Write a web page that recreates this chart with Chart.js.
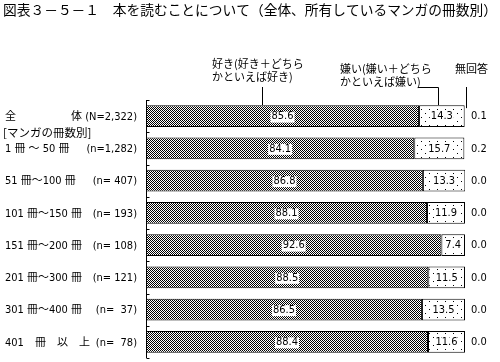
<!DOCTYPE html>
<html>
<head>
<meta charset="utf-8">
<script src="https://cdn.jsdelivr.net/npm/chart.js@4"></script>
<style>
  html, body { margin: 0; padding: 0; background: #fff; }
  #wrap { width: 500px; height: 362px; position: relative; }
</style>
</head>
<body>
<div id="wrap"><canvas id="chartManga" width="500" height="362"></canvas></div>
<script>
const titleText = '図表３－５－１　本を読むことについて（全体、所有しているマンガの冊数別）'
const groupHeader = '[マンガの冊数別]'
const categories = ['全　　　　　体', '1 冊 ～ 50 冊', '51 冊～100 冊', '101 冊～150 冊', '151 冊～200 冊', '201 冊～300 冊', '301 冊～400 冊', '401　冊　以　上']
const sampleSizes = ['(N=2,322)', '(n=1,282)', '(n= 407)', '(n= 193)', '(n= 108)', '(n= 121)', '(n=  37)', '(n=  78)']
const likeValues = [85.6, 84.1, 86.8, 88.1, 92.6, 88.5, 86.5, 88.4]
const dislikeValues = [14.3, 15.7, 13.3, 11.9, 7.4, 11.5, 13.5, 11.6]
const noAnswerValues = [0.1, 0.2, 0.0, 0.0, 0.0, 0.0, 0.0, 0.0]
const legendLike = ['好き(好き＋どちら', 'かといえば好き)']
const legendDislike = ['嫌い(嫌い＋どちら', 'かといえば嫌い)']
const legendNoAnswer = '無回答'

const jpFont = '"Noto Sans CJK JP", sans-serif'
const numFont = '"Liberation Sans Narrow", "DejaVu Sans Condensed", "Noto Sans CJK JP", sans-serif'

// 塗りパターン
function makeChecker() {
  const c = document.createElement('canvas')
  c.width = 2
  c.height = 2
  const g = c.getContext('2d')
  g.fillStyle = '#fff'
  g.fillRect(0, 0, 2, 2)
  g.fillStyle = '#000'
  g.fillRect(0, 0, 1, 1)
  g.fillRect(1, 1, 1, 1)
  return g.createPattern(c, 'repeat')
}
function makeDots() {
  const c = document.createElement('canvas')
  c.width = 8
  c.height = 8
  const g = c.getContext('2d')
  g.fillStyle = '#fff'
  g.fillRect(0, 0, 8, 8)
  g.fillStyle = '#000'
  g.fillRect(1, 1, 1, 1)
  g.fillRect(5, 5, 1, 1)
  return g.createPattern(c, 'repeat')
}

const ctx = document.getElementById('chartManga').getContext('2d')

const decorPlugin = {
  id: 'decor',
  afterDatasetsDraw(chart) {
    const c = chart.ctx
    const x = chart.scales.x
    const y = chart.scales.y
    const area = chart.chartArea
    c.save()
    c.fillStyle = '#000'
    c.strokeStyle = '#000'
    c.lineWidth = 1

    // 縦軸と内向きの目盛り
    const ax = Math.round(area.left) + 0.5
    c.beginPath()
    c.moveTo(ax, area.top)
    c.lineTo(ax, area.bottom)
    c.stroke()
    for (let i = 0; i <= categories.length; i++) {
      const py = Math.round(y.getPixelForValue(i - 0.5)) + 0.5
      c.beginPath()
      c.moveTo(ax, py)
      c.lineTo(ax + 3, py)
      c.stroke()
    }

    // title
    let size = 14
    c.font = size + 'px ' + jpFont
    const w = c.measureText(titleText).width
    size = size * 494 / w
    c.font = size + 'px ' + jpFont
    c.textBaseline = 'middle'
    c.textAlign = 'left'
    c.fillText(titleText, 3, 10)

    // category labels
    c.font = '11px ' + numFont
    categories.forEach((name, i) => {
      const py = y.getPixelForValue(i) + 1
      c.textAlign = 'left'
      c.fillText(name, 5, py)
      c.textAlign = 'right'
      c.fillText(sampleSizes[i], 137, py)
    })
    c.textAlign = 'left'
    c.font = '11.5px ' + jpFont
    c.fillText(groupHeader, 3, y.getPixelForValue(0.5))

    // value labels
    c.font = '11px ' + numFont
    c.textAlign = 'center'
    likeValues.forEach((v, i) => {
      const py = y.getPixelForValue(i) + 0.5
      const cx = (x.getPixelForValue(0) + x.getPixelForValue(v)) / 2
      const t = v.toFixed(1)
      const tw = c.measureText(t).width
      c.fillStyle = '#fff'
      c.fillRect(cx - tw / 2 - 1, py - 5, tw + 2, 11)
      c.fillStyle = '#000'
      c.fillText(t, cx, py)
    })
    dislikeValues.forEach((v, i) => {
      const py = y.getPixelForValue(i) + 0.5
      const x0 = x.getPixelForValue(likeValues[i])
      const cx = (x0 + x.getPixelForValue(likeValues[i] + v)) / 2
      const t = v.toFixed(1)
      const tw = c.measureText(t).width
      c.fillStyle = '#fff'
      c.fillRect(cx - tw / 2 - 1, py - 5, tw + 2, 11)
      c.fillStyle = '#000'
      c.fillText(t, cx, py)
    })
    c.textAlign = 'left'
    noAnswerValues.forEach((v, i) => {
      c.fillText(v.toFixed(1), area.right + 6, y.getPixelForValue(i) + 0.5)
    })

    // legend callouts
    c.font = '11px ' + jpFont
    c.fillText(legendLike[0], 212, 64)
    c.fillText(legendLike[1], 212, 77)
    c.fillText(legendDislike[0], 340, 69)
    c.fillText(legendDislike[1], 340, 82)
    c.fillText(legendNoAnswer, 455, 69)

    const barTop = y.getPixelForValue(0) - 11
    c.beginPath()
    c.moveTo(262.5, 87)
    c.lineTo(262.5, barTop)
    c.moveTo(418, 87.5)
    c.lineTo(438.5, 87.5)
    c.lineTo(438.5, barTop)
    c.moveTo(466.5, 87)
    c.lineTo(466.5, barTop + 3)
    c.stroke()
    c.restore()
  },
}

new Chart(ctx, {
  type: 'bar',
  data: {
    labels: categories,
    datasets: [
      {
        label: '好き',
        data: likeValues,
        backgroundColor: makeChecker(),
        borderColor: '#000',
        borderWidth: 1,
        borderSkipped: false,
      },
      {
        label: '嫌い',
        data: dislikeValues,
        backgroundColor: makeDots(),
        borderColor: '#000',
        borderWidth: 1,
        borderSkipped: false,
      },
      {
        label: '無回答',
        data: noAnswerValues,
        backgroundColor: '#fff',
        borderWidth: 0,
      },
    ],
  },
  options: {
    indexAxis: 'y',
    responsive: false,
    animation: false,
    devicePixelRatio: 1,
    barPercentage: 0.68,
    categoryPercentage: 1,
    layout: { padding: { left: 146, right: 35, top: 100, bottom: 4 } },
    plugins: {
      legend: { display: false },
      tooltip: { enabled: false },
    },
    scales: {
      x: {
        stacked: true,
        min: 0,
        max: 100,
        display: false,
      },
      y: {
        stacked: true,
        ticks: { display: false },
        grid: { display: false },
        border: { display: false },
        afterFit: (scale) => { scale.width = 0 },
      },
    },
  },
  plugins: [decorPlugin],
})
</script>
</body>
</html>
